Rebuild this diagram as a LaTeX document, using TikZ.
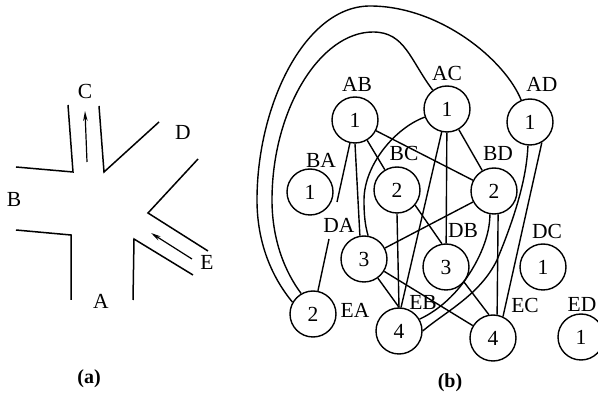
\documentclass[tikz,border=0pt]{standalone}
\usepackage{fontspec}
\setmainfont{Liberation Serif}
\usetikzlibrary{arrows.meta,automata}

\begin{document}
\begin{tikzpicture}[-
	,x=1pt,y=-1pt
	,line width=1.4pt
	,every node/.style={font=\fontsize{21.5}{21.5}\selectfont,inner sep=0pt}]
  \tikzstyle{every state}
  =[minimum size=46pt,inner sep=0pt,line width=1.4pt]
  \tikzstyle{wall}=[line width=1.5pt]
  \tikzstyle{flow}=[line width=1.2pt,-{Stealth[length=10pt,width=4.5pt]}]
  \tikzstyle{caption}=[font=\fontsize{20}{20}\selectfont\bfseries]

  \useasboundingbox (0,0) rectangle (598,395);

  % (a) the junction
  \draw[wall] (68,105) -- (73,172) -- (16,167);
  \draw[wall] (99,106) -- (104,172) -- (159,122);
  \draw[wall] (198,159) -- (148,213) -- (208,251);
  \draw[wall] (193,275) -- (134,239) -- (133,300);
  \draw[wall] (71,300) -- (71,235) -- (16,230);
  \draw[flow] (87,162) -- (85,111);
  \draw[flow] (192,259) -- (151,233);

  \node (A) at (101,301) {A};
  \node (B) at (14,199) {B};
  \node (C) at (85,91) {C};
  \node (D) at (183,132) {D};
  \node (E) at (207,262) {E};
  \node[caption] (capa) at (89,379) {(a)};

  % (b) 1s
  \node[state](AB) at (355,120) {1};
  \node[state](AC) at (447,109) {1};
  \node[state](AD) at (530,122) {1};
  \node[state](BA) at (310,192) {1};
  \node[state](DC) at (543,267) {1};
  \node[state](ED) at (581,337) {1};
  % 2s
  \node[state](BC) at (397,190) {2};
  \node[state](BD) at (494,191) {2};
  \node[state](EA) at (313,314) {2};
  % 3s
  \node[state](DA) at (364,259) {3};
  \node[state](DB) at (446,267) {3};
  % 4s
  \node[state](EB) at (399,331) {4};
  \node[state](EC) at (493,338) {4};

  % names
  \node (lAB) at (357,84) {AB};
  \node (lAC) at (447,73) {AC};
  \node (lAD) at (542,84) {AD};
  \node (lBA) at (321,160) {BA};
  \node (lBC) at (404,153) {BC};
  \node (lBD) at (498,153) {BD};
  \node (lDA) at (339,225) {DA};
  \node (lDB) at (463,230) {DB};
  \node (lDC) at (547,231) {DC};
  \node (lEA) at (355,310) {EA};
  \node (lEB) at (423,302) {EB};
  \node (lEC) at (525,305) {EC};
  \node (lED) at (582,304) {ED};
  \node[caption] (capb) at (450,383) {(b)};

  % straights
  \path (AB) edge (BC);
  \path (AB) edge (BD);
  \path (AB.south) edge (DA.100);
  \path (AC) edge (BD);
  \path (AC) edge (DB);
  \path (AC) edge (EB.85);
  \path (AD.-60) edge (EC.65);
  \path (BC.-40) edge (DB.100);
  \path (BC.south) edge (EB.north);
  \path (BD) edge (DA);
  \path (BD.280) edge (EC.80);
  \path (DA) edge (EB.north);
  \path (DA) edge (EC);
  \path (DB.-40) edge (EC.100);
  % broken at the DA name
  \coordinate (gapa) at (337,202);
  \coordinate (gapb) at (329,239);
  \draw (AB) -- (gapa);
  \draw (gapb) -- (EA);

  % curves
  \draw (AC) .. controls (395,128) and (364,165) .. (364,200) .. controls (364,215) and (365,225) .. (DA.80);
  \draw (AD.-95) .. controls (527,170) and (520,205) .. (497,260) .. controls (480,295) and (445,312) .. (EB.east);
  \draw (BD.-100) .. controls (490,235) and (480,260) .. (463,283) .. controls (450,300) and (435,312) .. (EB.30);

  % round the outside
  \draw (EA.150) .. controls (270,275) and (257,240) .. (257,200)
     .. controls (257,105) and (305,6) .. (370,6)
     .. controls (440,6) and (505,60) .. (AD);
  \draw (EA.120) .. controls (285,272) and (272,240) .. (272,200)
     .. controls (272,110) and (320,32) .. (373,32)
     .. controls (405,32) and (410,60) .. (AC);
\end{tikzpicture}
\end{document}
